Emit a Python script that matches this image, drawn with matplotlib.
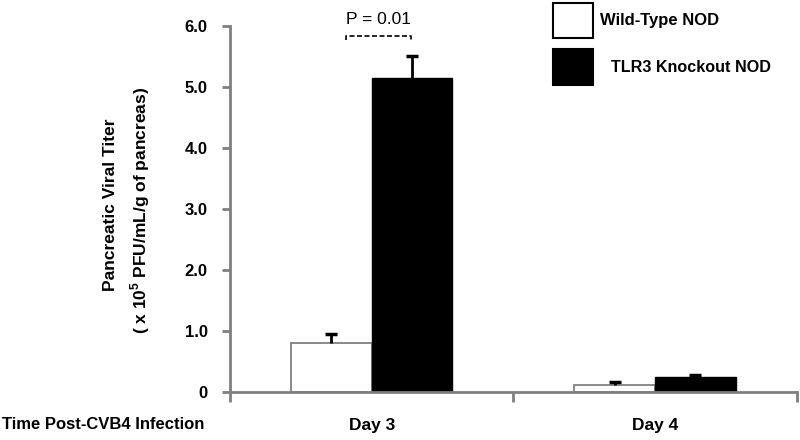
import matplotlib
matplotlib.use('Agg')
import matplotlib.pyplot as plt
import matplotlib.patches as mpatches
import numpy as np

# Datos
dias = ['Day 3', 'Day 4']
wild_type = [0.80, 0.12]
wild_type_err = [0.15, 0.05]
knockout = [5.15, 0.25]
knockout_err = [0.36, 0.03]
y_ticks = [0, 1, 2, 3, 4, 5, 6]
y_tick_labels = ['0', '1.0', '2.0', '3.0', '4.0', '5.0', '6.0']

FUENTE = 'Liberation Sans'
GRIS = '#808080'

plt.rcParams.update({
    'font.family': [FUENTE, 'DejaVu Sans'],
    'mathtext.fontset': 'custom',
    'mathtext.rm': FUENTE + ':bold',
    'mathtext.bf': FUENTE + ':bold',
})

fig = plt.figure(figsize=(8, 4.4), dpi=100)
ax = fig.add_axes([0.2875, 0.109, 0.7085, 0.832])

x = np.arange(len(dias))
ancho = 0.285

ax.bar(x - ancho / 2, wild_type, width=ancho, color='white',
       edgecolor=GRIS, linewidth=1.3, zorder=2)
ax.bar(x + ancho / 2, knockout, width=ancho, color='black',
       edgecolor='black', linewidth=1, zorder=2)

# Barras de error solo hacia arriba
for pos, vals, errs in [(x - ancho / 2, wild_type, wild_type_err),
                        (x + ancho / 2, knockout, knockout_err)]:
    eb = ax.errorbar(pos, vals, yerr=[np.zeros(len(dias)), errs],
                     fmt='none', ecolor='black', elinewidth=2, capsize=4.5,
                     capthick=2.5, zorder=3)
    eb[1][0].set_visible(False)

ax.set_xlim(-0.5, 1.5)
ax.set_ylim(0, 6)

for lado in ['top', 'right']:
    ax.spines[lado].set_visible(False)
for lado in ['left', 'bottom']:
    ax.spines[lado].set_color(GRIS)
    ax.spines[lado].set_linewidth(2)
ax.spines['bottom'].set_zorder(4)

ax.set_yticks(y_ticks)
ax.set_yticklabels(y_tick_labels, fontsize=12, fontweight='bold')
ax.tick_params(axis='y', direction='out', length=6, width=2, color=GRIS,
               pad=10)

ax.set_xticks([-0.5, 0.5, 1.5])
ax.set_xticklabels([])
ax.tick_params(axis='x', which='major', direction='out', length=7, width=2,
               color=GRIS)
ax.set_xticks(x, minor=True)
ax.set_xticklabels(dias, minor=True, fontsize=12.5, fontweight='bold')
ax.tick_params(axis='x', which='minor', length=0, pad=19)

# Etiquetas de ejes
fig.text(110 / 800, 1 - 205 / 440, 'Pancreatic Viral Titer', rotation=90,
         ha='center', va='center', fontsize=12.5, fontweight='bold')
fig.text(140 / 800, 1 - 210 / 440,
         r'( x 10$^{5}$ PFU/mL/g of pancreas)', rotation=90,
         ha='center', va='center', fontsize=12.5, fontweight='bold')
fig.text(0.002, 1 - 424 / 440, 'Time Post-CVB4 Infection', ha='left',
         va='center', fontsize=12, fontweight='bold')

# Significancia
ax.plot([-0.09, -0.09, 0.14, 0.14], [5.77, 5.84, 5.84, 5.77],
        color='black', linestyle=(0, (3, 1.5)), linewidth=1.2,
        clip_on=False)
ax.text(0.025, 5.98, 'P = 0.01', ha='center', va='bottom', fontsize=12.5,
        clip_on=False)

# Leyenda manual
fig.patches.append(mpatches.Rectangle(
    (553 / 800, 1 - 38 / 440), 40 / 800, 35 / 440, transform=fig.transFigure,
    facecolor='white', edgecolor='black', linewidth=1.5))
fig.patches.append(mpatches.Rectangle(
    (553 / 800, 1 - 85 / 440), 40 / 800, 36 / 440, transform=fig.transFigure,
    facecolor='black', edgecolor='black', linewidth=1.5))
fig.text(600 / 800, 1 - 21 / 440, 'Wild-Type NOD', ha='left', va='center',
         fontsize=12, fontweight='bold')
fig.text(611 / 800, 1 - 67 / 440, 'TLR3 Knockout NOD', ha='left',
         va='center', fontsize=11.6, fontweight='bold')

fig.savefig('out.png', dpi=100, facecolor='white')
